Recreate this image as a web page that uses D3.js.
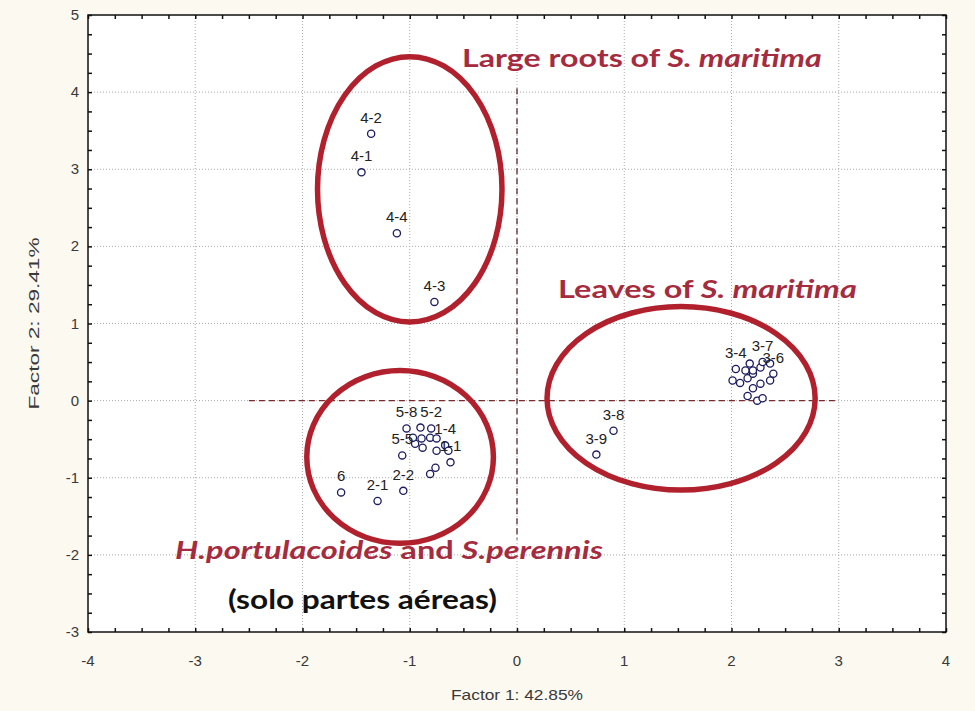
<!DOCTYPE html>
<html>
<head>
    <title>Factor plot</title>
    <style>
        body, html { margin: 0; padding: 0; background: #fcf9f0; overflow: hidden; }
        .tick-label { font-family: Arial, "Liberation Sans", sans-serif; font-size: 15px; fill: #3a3a3a; }
        .pt-label { font-family: Arial, "Liberation Sans", sans-serif; font-size: 15px; fill: #222; }
        .note { font-family: Lato, "Open Sans", sans-serif; font-weight: bold; }
    </style>
    <script src="https://d3js.org/d3.v7.min.js"></script>
</head>
<body>
<svg id="chart" width="975" height="711"></svg>
<script>
// sample scores (Factor 1, Factor 2) and labels (blank = label hidden under the cluster)
const roots = [
    { id: '4-2', f1: -1.36, f2: 3.46 },
    { id: '4-1', f1: -1.45, f2: 2.96 },
    { id: '4-4', f1: -1.12, f2: 2.17 },
    { id: '4-3', f1: -0.77, f2: 1.28 }
];
const leaves = [
    { id: '3-8', f1: 0.90, f2: -0.39 },
    { id: '3-9', f1: 0.74, f2: -0.70 },
    { id: '', f1: 2.01, f2: 0.26 },
    { id: '', f1: 2.08, f2: 0.23 },
    { id: '', f1: 2.15, f2: 0.29 },
    { id: '', f1: 2.20, f2: 0.35 },
    { id: '', f1: 2.27, f2: 0.43 },
    { id: '3-7', f1: 2.29, f2: 0.50 },
    { id: '', f1: 2.36, f2: 0.48 },
    { id: '3-6', f1: 2.39, f2: 0.35 },
    { id: '', f1: 2.36, f2: 0.26 },
    { id: '', f1: 2.27, f2: 0.22 },
    { id: '', f1: 2.20, f2: 0.16 },
    { id: '', f1: 2.15, f2: 0.06 },
    { id: '', f1: 2.24, f2: 0.00 },
    { id: '', f1: 2.29, f2: 0.03 },
    { id: '', f1: 2.20, f2: 0.39 },
    { id: '', f1: 2.13, f2: 0.39 },
    { id: '', f1: 2.17, f2: 0.48 },
    { id: '3-4', f1: 2.04, f2: 0.41 }
];
const aerial = [
    { id: '5-8', f1: -1.03, f2: -0.36 },
    { id: '', f1: -0.90, f2: -0.35 },
    { id: '5-2', f1: -0.80, f2: -0.36 },
    { id: '', f1: -0.95, f2: -0.56 },
    { id: '', f1: -0.88, f2: -0.61 },
    { id: '', f1: -0.75, f2: -0.65 },
    { id: '1-4', f1: -0.67, f2: -0.58 },
    { id: '', f1: -0.64, f2: -0.65 },
    { id: '1-1', f1: -0.62, f2: -0.80 },
    { id: '', f1: -0.76, f2: -0.87 },
    { id: '5-5', f1: -1.07, f2: -0.71 },
    { id: '', f1: -0.97, f2: -0.48 },
    { id: '', f1: -0.81, f2: -0.48 },
    { id: '', f1: -0.75, f2: -0.49 },
    { id: '', f1: -0.89, f2: -0.49 },
    { id: '6', f1: -1.64, f2: -1.19 },
    { id: '2-1', f1: -1.30, f2: -1.30 },
    { id: '2-2', f1: -1.06, f2: -1.17 },
    { id: '', f1: -0.81, f2: -0.95 }
];
const points = roots.concat(leaves, aerial);

const xTicks = [-4, -3, -2, -1, 0, 1, 2, 3, 4];
const yTicks = [-3, -2, -1, 0, 1, 2, 3, 4, 5];

// hand-drawn group outlines (centre, radii in factor units)
const groups = [
    { name: 'roots', cx: -1.0, cy: 2.74, rx: 0.86, ry: 1.72 },
    { name: 'aerial', cx: -1.09, cy: -0.73, rx: 0.87, ry: 1.12 },
    { name: 'leaves', cx: 1.53, cy: 0.03, rx: 1.25, ry: 1.19 }
];

const svg = d3.select('#chart');
const m = { left: 88, right: 946, top: 15, bottom: 632 };

const x = d3.scaleLinear().domain([-4, 4]).range([m.left, m.right]);
const y = d3.scaleLinear().domain([-3, 5]).range([m.bottom, m.top]);

svg.append('rect')
    .attr('x', m.left).attr('y', m.top)
    .attr('width', m.right - m.left).attr('height', m.bottom - m.top)
    .attr('fill', '#fff');

// dotted grid
svg.append('g').selectAll('line')
    .data(xTicks.slice(1, -1))
    .enter().append('line')
    .attr('x1', d => x(d)).attr('x2', d => x(d))
    .attr('y1', m.top).attr('y2', m.bottom)
    .attr('stroke', '#aaa').attr('stroke-width', 1).attr('stroke-dasharray', '1,2');
svg.append('g').selectAll('line')
    .data(yTicks.slice(1, -1))
    .enter().append('line')
    .attr('y1', d => y(d)).attr('y2', d => y(d))
    .attr('x1', m.left).attr('x2', m.right)
    .attr('stroke', '#aaa').attr('stroke-width', 1).attr('stroke-dasharray', '1,2');

// axes with inward minor ticks on all four sides
const minor = d3.range(-4, 4.01, 0.25);
const minorY = d3.range(-3, 5.01, 0.25);
const tickLen = 4;
svg.append('g').call(d3.axisBottom(x).tickValues(minor).tickSize(-tickLen).tickFormat(''))
    .attr('transform', `translate(0,${m.bottom})`);
svg.append('g').call(d3.axisTop(x).tickValues(minor).tickSize(-tickLen).tickFormat(''))
    .attr('transform', `translate(0,${m.top})`);
svg.append('g').call(d3.axisLeft(y).tickValues(minorY).tickSize(-tickLen).tickFormat(''))
    .attr('transform', `translate(${m.left},0)`);
svg.append('g').call(d3.axisRight(y).tickValues(minorY).tickSize(-tickLen).tickFormat(''))
    .attr('transform', `translate(${m.right},0)`);
svg.selectAll('.domain').remove();
svg.selectAll('.tick line').attr('stroke', '#111').attr('stroke-width', 1.5);

svg.append('rect')
    .attr('x', m.left).attr('y', m.top)
    .attr('width', m.right - m.left).attr('height', m.bottom - m.top)
    .attr('fill', 'none').attr('stroke', '#111').attr('stroke-width', 1.5);

svg.append('g').selectAll('text')
    .data(xTicks)
    .enter().append('text')
    .attr('class', 'tick-label')
    .attr('x', d => x(d)).attr('y', m.bottom + 34)
    .attr('text-anchor', 'middle')
    .text(d => d);
svg.append('g').selectAll('text')
    .data(yTicks)
    .enter().append('text')
    .attr('class', 'tick-label')
    .attr('x', m.left - 9).attr('y', d => y(d) + 5)
    .attr('text-anchor', 'end')
    .text(d => d);

svg.append('text')
    .attr('class', 'tick-label')
    .attr('x', (m.left + m.right) / 2).attr('y', 700)
    .attr('text-anchor', 'middle')
    .attr('textLength', 132).attr('lengthAdjust', 'spacingAndGlyphs')
    .text('Factor 1: 42.85%');
svg.append('text')
    .attr('class', 'tick-label')
    .attr('font-size', 16)
    .attr('transform', `translate(39,${y(1)}) rotate(-90)`)
    .attr('text-anchor', 'middle')
    .attr('textLength', 172).attr('lengthAdjust', 'spacingAndGlyphs')
    .text('Factor 2: 29.41%');

// dashed origin lines
svg.append('line')
    .attr('x1', x(-2.5)).attr('x2', x(3))
    .attr('y1', y(0)).attr('y2', y(0))
    .attr('stroke', '#7a2a2a').attr('stroke-width', 1.3).attr('stroke-dasharray', '6,4');
svg.append('line')
    .attr('x1', x(0)).attr('x2', x(0))
    .attr('y1', y(4.05)).attr('y2', y(-1.8))
    .attr('stroke', '#5a2a2a').attr('stroke-width', 1.3).attr('stroke-dasharray', '6,4');

// group outlines
svg.append('g').selectAll('ellipse')
    .data(groups)
    .enter().append('ellipse')
    .attr('cx', d => x(d.cx)).attr('cy', d => y(d.cy))
    .attr('rx', d => x(d.rx) - x(0)).attr('ry', d => y(0) - y(d.ry))
    .attr('fill', 'none').attr('stroke', '#b0212d').attr('stroke-width', 5.5);

// points and labels
svg.append('g').selectAll('circle')
    .data(points)
    .enter().append('circle')
    .attr('cx', d => x(d.f1)).attr('cy', d => y(d.f2))
    .attr('r', 3.6)
    .attr('fill', '#fff').attr('stroke', '#1c1c5e').attr('stroke-width', 1.3);
svg.append('g').selectAll('text')
    .data(points.filter(d => d.id))
    .enter().append('text')
    .attr('class', 'pt-label')
    .attr('x', d => x(d.f1)).attr('y', d => y(d.f2) - 11)
    .attr('text-anchor', 'middle')
    .text(d => d.id);

// group notes, stretched to the width they take in the original
const noteColor = '#a52c3e';
function note(px, py, size, width, parts, color) {
    const t = svg.append('text').attr('class', 'note')
        .attr('x', 0).attr('y', 0)
        .attr('font-size', size).attr('fill', color);
    parts.forEach(p => t.append('tspan').attr('font-style', p[1] ? 'italic' : 'normal').text(p[0]));
    const w = t.node().getComputedTextLength();
    t.attr('transform', `translate(${px},${py}) scale(${width / w},1)`);
}
note(462, 67, 25, 360, [['Large roots of ', false], ['S. maritima', true]], noteColor);
note(558, 298, 25, 299, [['Leaves of ', false], ['S. maritima', true]], noteColor);
note(175, 559, 25, 428, [['H.portulacoides', true], [' and ', false], ['S.perennis', true]], noteColor);
note(228, 609, 27, 269, [['(solo partes aéreas)', false]], '#111');
</script>
</body>
</html>
